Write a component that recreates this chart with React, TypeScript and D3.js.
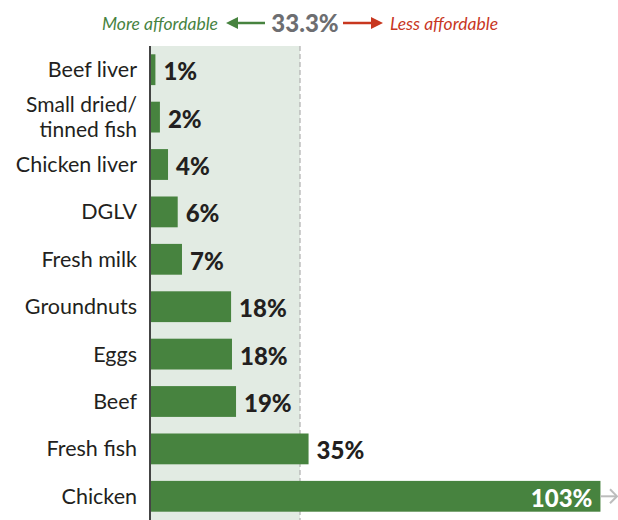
import React from "react";
import * as d3 from "d3";

const categories = [
  ["Beef liver"],
  ["Small dried/", "tinned fish"],
  ["Chicken liver"],
  ["DGLV"],
  ["Fresh milk"],
  ["Groundnuts"],
  ["Eggs"],
  ["Beef"],
  ["Fresh fish"],
  ["Chicken"],
];
const values = [1.2, 2.2, 4.0, 6.15, 7.1, 18.0, 18.2, 19.1, 35.2, 103];
const labels = ["1%", "2%", "4%", "6%", "7%", "18%", "18%", "19%", "35%", "103%"];
const threshold = 33.3;
const thresholdLabel = "33.3%";
const axisCap = 100;

const W = 618;
const H = 520;
const GREEN = "#47833f";
const BG = "#e2ebe3";
const RED = "#c8371f";
const GRAY = "#6d6e71";
const FONT = "Lato, 'Open Sans', sans-serif";

export default function App() {
  const x = d3.scaleLinear().domain([0, threshold]).range([150, 300]);
  const y = d3
    .scaleBand<number>()
    .domain(d3.range(values.length))
    .range([46, 520])
    .paddingInner(0.35)
    .paddingOuter(0.175);
  const bw = y.bandwidth();
  const capX = x(axisCap);
  const LH = 25.5;

  return (
    <svg
      width={W}
      height={H}
      style={{ position: "absolute", left: 0, top: 0, display: "block" }}
      fontFamily={FONT}
    >
      <rect x={x(0)} y={46} width={x(threshold) - x(0)} height={H - 46} fill={BG} />
      <line
        x1={x(threshold)}
        x2={x(threshold)}
        y1={46}
        y2={H}
        stroke="#b5b5b5"
        strokeWidth={1.3}
        strokeDasharray="5 3"
      />
      {/* header */}
      <g>
        <text x={218} y={30} textAnchor="end" fill={GREEN} fontStyle="italic" fontSize={17.5}>
          More affordable
        </text>
        <line x1={236} x2={265} y1={23} y2={23} stroke={GREEN} strokeWidth={2.5} />
        <path d="M226,23 L238,17 L238,29 Z" fill={GREEN} />
        <text x={305} y={31.5} textAnchor="middle" fill={GRAY} fontWeight={900} fontSize={24}>
          {thresholdLabel}
        </text>
        <line x1={343} x2={372} y1={23} y2={23} stroke={RED} strokeWidth={2.5} />
        <path d="M383,23 L371,17 L371,29 Z" fill={RED} />
        <text x={390} y={30} textAnchor="start" fill={RED} fontStyle="italic" fontSize={17.5}>
          Less affordable
        </text>
      </g>
      {values.map((v, i) => {
        const y0 = y(i)!;
        const cy = y0 + bw / 2;
        const capped = v > axisCap;
        const xe = capped ? capX : x(v);
        const lines = categories[i];
        const multi = lines.length > 1;
        const fs = multi ? 21 : 21.5;
        const first = cy - ((lines.length - 1) * LH) / 2;
        return (
          <g key={i}>
            <rect x={x(0)} y={y0} width={xe - x(0)} height={bw} fill={GREEN} />
            {lines.map((l, j) => (
              <text
                key={j}
                x={137}
                y={first + j * LH + 7.5}
                textAnchor="end"
                fontSize={fs}
                fill="#231f20"
              >
                {l}
              </text>
            ))}
            {capped ? (
              <>
                <text
                  x={xe - 8}
                  y={cy + 1}
                  textAnchor="end"
                  fontSize={24}
                  fontWeight={900}
                  fill="#fff"
                  dominantBaseline="central"
                >
                  {labels[i]}
                </text>
                <line x1={xe} x2={W - 2} y1={cy} y2={cy} stroke="#bdbdbd" strokeWidth={2} />
                <path
                  d={`M${W - 8},${cy - 7} L${W - 1},${cy} L${W - 8},${cy + 7}`}
                  fill="none"
                  stroke="#bdbdbd"
                  strokeWidth={2}
                />
              </>
            ) : (
              <text
                x={xe + 8}
                y={cy + 1}
                textAnchor="start"
                fontSize={24}
                fontWeight={900}
                fill="#231f20"
                dominantBaseline="central"
              >
                {labels[i]}
              </text>
            )}
          </g>
        );
      })}
      <line x1={x(0)} x2={x(0)} y1={46} y2={H} stroke="#444" strokeWidth={2} />
    </svg>
  );
}
